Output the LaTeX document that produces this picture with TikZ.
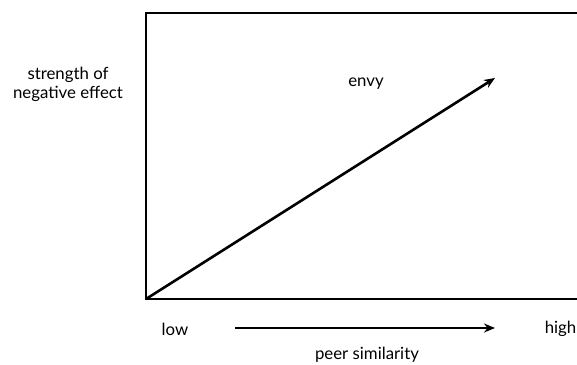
\documentclass[tikz,border=0pt]{standalone}
\usepackage{fontspec}
\setmainfont{Lato}
\usetikzlibrary{positioning,arrows.meta}

\begin{document}
\begin{tikzpicture}[x=1pt,y=-1pt,>={Stealth[length=11pt,width=9pt]},
  frame/.style={line width=2pt},
  trend/.style={line width=2.6pt,->},
  lbl/.style={font=\fontsize{16.8}{19}\selectfont,inner sep=0pt,align=center}]
  \useasboundingbox (0,0) rectangle (577,364);
  \clip (0,0) rectangle (577,364);
  \coordinate (o) at (146,299);
  \coordinate (tip) at (495,78);
  \draw[frame] (o) -- (146,12.5) -- (590,12.5) -- (590,299) -- cycle;
  \draw[trend] (o) -- (tip);
  \node[lbl] (envy) at (366,84) {envy};
  \node[lbl] (yaxis) at (68,84) {strength of\\negative effect};
  \node[lbl] (low) at (175,329) {low};
  \node[lbl,anchor=east] (high) at (576.5,329) {high};
  \coordinate (axstart) at (235,328);
  \coordinate (axend) at (495,328);
  \draw[trend] (axstart) -- (axend);
  \node[lbl] (xaxis) at (367,355) {peer similarity};
\end{tikzpicture}
\end{document}
